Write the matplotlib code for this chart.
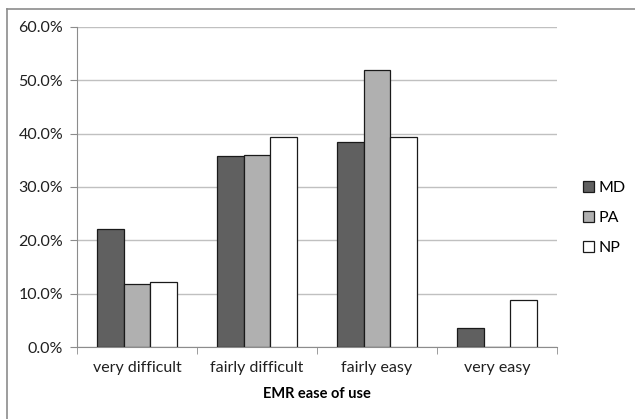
import matplotlib
matplotlib.use("Agg")
import matplotlib.pyplot as plt
import numpy as np
from matplotlib.ticker import FuncFormatter

categories = ["very difficult", "fairly difficult", "fairly easy", "very easy"]
series_names = ["MD", "PA", "NP"]
md = [22.1, 35.8, 38.5, 3.5]
pa = [11.9, 36.0, 51.9, 0.0]
np_vals = [12.1, 39.4, 39.4, 8.9]
yticks = [0, 10, 20, 30, 40, 50, 60]
colors = ["#606060", "#b0b0b0", "#ffffff"]

plt.rcParams['font.family'] = ['Lato', 'DejaVu Sans']

fig = plt.figure(figsize=(6.35, 4.19), dpi=100)
ax = fig.add_axes([77/635, 1 - 347/419, 480/635, 320/419])

x = np.arange(len(categories))
w = 0.2222
for i, (vals, c, name) in enumerate(zip([md, pa, np_vals], colors, series_names)):
    ax.bar(x + (i - 1) * w, vals, w, color=c, edgecolor="#1a1a1a", linewidth=0.9,
           label=name, zorder=3)

ax.set_xlim(-0.5, len(categories) - 0.5)
ax.set_ylim(0, 60)
ax.set_yticks(yticks)
ax.yaxis.set_major_formatter(FuncFormatter(lambda v, p: f"{v:.1f}%"))
ax.grid(axis="y", color="#c0c0c0", linewidth=1.0, zorder=0)
ax.set_axisbelow(True)
for s in ["top", "right"]:
    ax.spines[s].set_visible(False)
ax.spines["left"].set_color("#8c8c8c")
ax.spines["bottom"].set_color("#8c8c8c")
ax.set_xticks(x)
ax.set_xticklabels(categories, fontsize=11.5, color="#202020")
ax.tick_params(axis="x", length=0, pad=10)
ax.set_xticks(np.arange(-0.5, len(categories)), minor=True)
ax.tick_params(axis="x", which="minor", length=5, color="#8c8c8c")
ax.tick_params(axis="y", length=5, color="#8c8c8c", labelsize=11.5, labelcolor="#202020", pad=5)
ax.set_xlabel("EMR ease of use", fontsize=10.5, fontweight="bold", labelpad=9)

leg = fig.legend(loc="upper left", bbox_to_anchor=(577/635, 1 - 175/419), frameon=False,
                 fontsize=11.5, handlelength=0.65, handleheight=0.65, handletextpad=0.3,
                 labelspacing=1.0, borderaxespad=0)

fig.add_artist(plt.Line2D([7/635, 7/635], [0, 1 - 9/419], transform=fig.transFigure,
                          color="#8c8c8c", linewidth=1.2))
fig.add_artist(plt.Line2D([7/635, 1], [1 - 9/419, 1 - 9/419], transform=fig.transFigure,
                          color="#8c8c8c", linewidth=1.2))

fig.savefig("out.png", dpi=100)
